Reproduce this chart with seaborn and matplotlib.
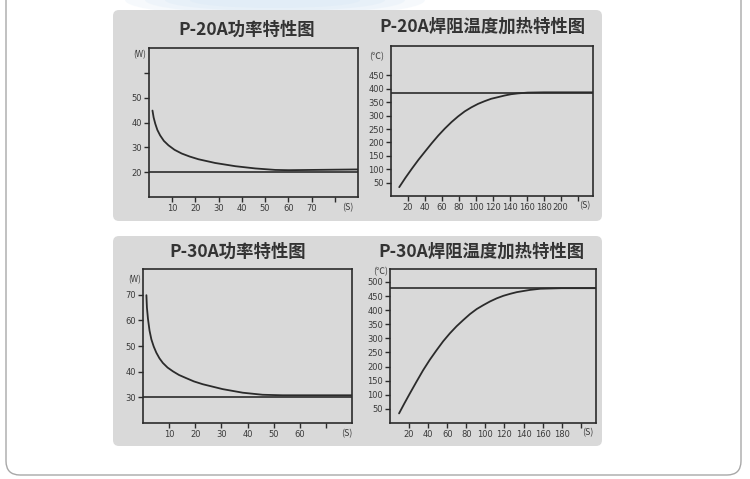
import matplotlib
matplotlib.use("Agg")
import matplotlib.pyplot as plt
from matplotlib.patches import FancyBboxPatch, Ellipse
import seaborn as sns

sns.set_style("ticks")
plt.rcParams["font.family"] = ["DejaVu Sans", "Noto Sans CJK SC"]

# ---- data -------------------------------------------------------------
# P-20A power (W) vs time (s)
p20_power_t = [1.5, 2.0, 2.7, 3.6, 4.8, 6.4, 8.4, 11.0, 14.1, 17.5, 21.3, 28.5,
               37.2, 45.8, 54.4, 60.1, 70.0, 80.0, 90.0]
p20_power_w = [44.8, 42.0, 39.5, 37.0, 34.8, 32.6, 30.8, 29.0, 27.5, 26.3, 25.2,
               23.7, 22.4, 21.5, 20.9, 20.8, 20.9, 21.0, 21.1]
p20_power_ref = 20

# P-20A tip temperature (°C) vs time (s)
p20_temp_t = [9.7, 17.0, 24.6, 32.3, 40.1, 48.0, 55.8, 63.5, 71.3, 79.0, 86.9,
              94.7, 102.6, 110.3, 118.1, 126.0, 133.7, 141.5, 149.4, 161.0,
              180.0, 200.0, 238.0]
p20_temp_c = [33, 68, 102, 135, 166, 197, 226, 252, 276, 297, 316, 331, 344,
              354, 363, 369, 375, 380, 383, 386, 387, 387, 387]
p20_temp_ref = 386

# P-30A power (W) vs time (s)
p30_power_t = [1.3, 1.5, 1.9, 2.5, 3.2, 4.1, 5.1, 6.3, 7.6, 9.4, 11.5, 13.8,
               16.5, 19.5, 22.9, 30.5, 38.2, 45.8, 53.4, 65.0, 80.0]
p30_power_w = [69.8, 65.0, 60.6, 56.0, 52.6, 49.8, 47.4, 45.2, 43.4, 41.6, 40.1,
               38.7, 37.5, 36.2, 35.1, 33.2, 31.8, 31.0, 30.8, 30.8, 30.8]
p30_power_ref = 30

# P-30A tip temperature (°C) vs time (s)
p30_temp_t = [9.5, 15.0, 20.7, 27.7, 34.7, 41.7, 48.8, 55.8, 62.8, 69.8, 76.8,
              83.8, 90.9, 97.9, 104.9, 111.9, 118.9, 126.0, 133.0, 147.0, 157.6,
              180.0, 216.0]
p30_temp_c = [34, 69, 104, 146, 187, 224, 258, 290, 318, 343, 365, 386, 404,
              418, 431, 442, 451, 458, 464, 472, 476, 478, 478]
p30_temp_ref = 478

titles = ["P-20A功率特性图", "P-20A焊阻温度加热特性图",
          "P-30A功率特性图", "P-30A焊阻温度加热特性图"]

p20_power_xticks = [10, 20, 30, 40, 50, 60, 70, 80]
p20_power_xlabels = ["10", "20", "30", "40", "50", "60", "70", ""]
p20_power_yticks = [20, 30, 40, 50, 60]
p20_power_ylabels = ["20", "30", "40", "50", ""]

p20_temp_xticks = [20, 40, 60, 80, 100, 120, 140, 160, 180, 200, 220]
p20_temp_xlabels = ["20", "40", "60", "80", "100", "120", "140", "160", "180", "200", ""]
p20_temp_yticks = [50, 100, 150, 200, 250, 300, 350, 400, 450]

p30_power_xticks = [10, 20, 30, 40, 50, 60, 70]
p30_power_xlabels = ["10", "20", "30", "40", "50", "60", ""]
p30_power_yticks = [30, 40, 50, 60, 70]

p30_temp_xticks = [20, 40, 60, 80, 100, 120, 140, 160, 180, 200]
p30_temp_xlabels = ["20", "40", "60", "80", "100", "120", "140", "160", "180", ""]
p30_temp_yticks = [50, 100, 150, 200, 250, 300, 350, 400, 450, 500]

# ---- figure & page --------------------------------------------------------
W, H = 750, 479
fig = plt.figure(figsize=(W / 100, H / 100), dpi=100)
fig.patch.set_facecolor("white")

page = fig.add_axes([0, 0, 1, 1], zorder=-5)
page.set_xlim(0, W)
page.set_ylim(H, 0)
page.axis("off")

page.add_patch(FancyBboxPatch((6, -30), 735, 505,
                              boxstyle="round,pad=0,rounding_size=14",
                              fc="white", ec="#a8a8a8", lw=1.0))

# soft bluish glow along the top edge of the page
for w, h, a in [(300, 34, 0.18), (260, 28, 0.18), (220, 22, 0.2), (170, 16, 0.2)]:
    page.add_patch(Ellipse((275, 0), w, h, fc="#cfe2f3", ec="none", alpha=a))

panel_color = "#d9d9d9"
for top, height in [(10, 211), (236, 210)]:
    page.add_patch(FancyBboxPatch((113, top), 489, height,
                                  boxstyle="round,pad=0,rounding_size=6",
                                  fc=panel_color, ec="none"))

ink = "#2b2b2b"
label_ink = "#3a3a3a"


def px_rect(left, top, right, bottom):
    return [left / W, 1 - bottom / H, (right - left) / W, (bottom - top) / H]


def make_axis(rect, t, v, ref, xlim, ylim, xticks, xlabels, yticks, ylabels):
    ax = fig.add_axes(px_rect(*rect))
    ax.set_facecolor("none")
    sns.lineplot(x=t, y=v, ax=ax, color=ink, lw=1.3)
    ax.axhline(ref, color=ink, lw=1.2)
    ax.set_xlim(*xlim)
    ax.set_ylim(*ylim)
    ax.set_xticks(xticks, xlabels)
    ax.set_yticks(yticks, ylabels)
    ax.set_xlabel("")
    ax.set_ylabel("")
    for sp in ax.spines.values():
        sp.set_visible(True)
        sp.set_color(ink)
        sp.set_linewidth(1.2)
    ax.tick_params(direction="out", length=3.5, width=1.0, color=ink,
                   labelcolor=label_ink, labelsize=6, pad=1.5)
    return ax


make_axis((149, 48, 358, 197), p20_power_t, p20_power_w, p20_power_ref,
          (0, 90), (10, 70), p20_power_xticks, p20_power_xlabels,
          p20_power_yticks, p20_power_ylabels)
make_axis((391, 46, 593, 196), p20_temp_t, p20_temp_c, p20_temp_ref,
          (0, 238), (0, 560), p20_temp_xticks, p20_temp_xlabels,
          p20_temp_yticks, [str(v) for v in p20_temp_yticks])
make_axis((143, 269, 352, 423), p30_power_t, p30_power_w, p30_power_ref,
          (0, 80), (20, 80), p30_power_xticks, p30_power_xlabels,
          p30_power_yticks, [str(v) for v in p30_power_yticks])
make_axis((390, 269, 596, 423), p30_temp_t, p30_temp_c, p30_temp_ref,
          (0, 216), (0, 546), p30_temp_xticks, p30_temp_xlabels,
          p30_temp_yticks, [str(v) for v in p30_temp_yticks])

# ---- titles and unit labels ---------------------------------------------
cjk = ["Noto Sans CJK SC", "DejaVu Sans"]
for (x, y), txt in zip([(247, 30), (482, 27), (238, 252), (481, 252)], titles):
    page.text(x, y, txt, ha="center", va="center", fontsize=12.5,
              fontweight="bold", color="#333333", family=cjk)

for x, y, txt, fs in [(140, 55, "(W)", 6), (135, 280, "(W)", 6),
                      (377, 57, "(℃)", 6.5), (381, 272, "(℃)", 6.5),
                      (348, 208, "(S)", 6.5), (585, 206, "(S)", 6.5),
                      (347, 434, "(S)", 6.5), (588, 433, "(S)", 6.5)]:
    page.text(x, y, txt, ha="center", va="center", fontsize=fs,
              color=label_ink, family=cjk)

fig.savefig("out.png", dpi=100)
